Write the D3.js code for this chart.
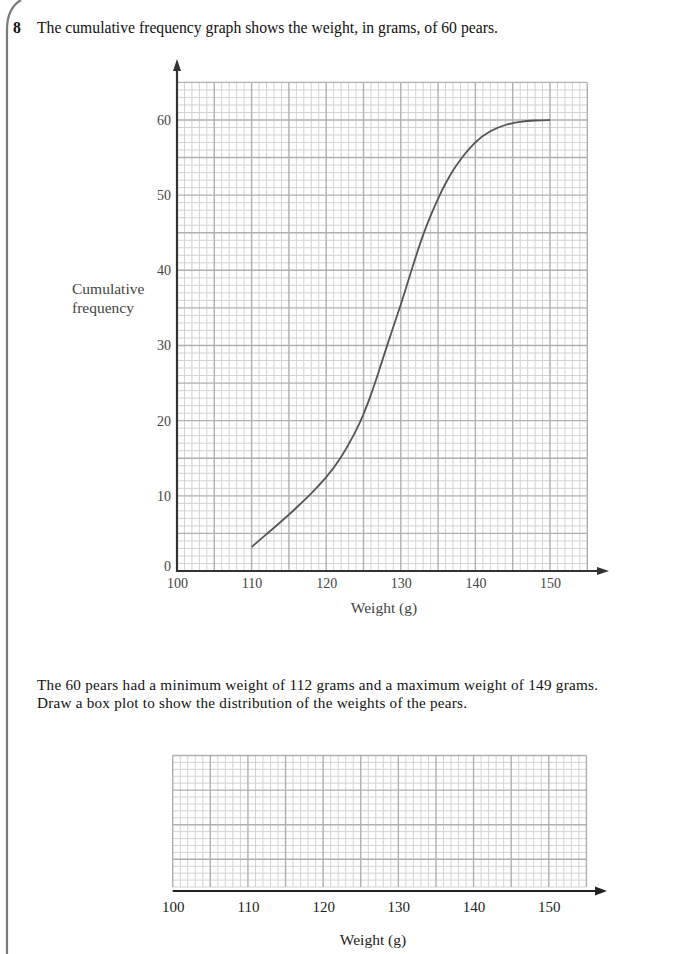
<!DOCTYPE html>
<html>
<head>
<meta charset="utf-8">
<script src="https://cdn.jsdelivr.net/npm/d3@7"></script>
<style>
  body { margin: 0; background: #fff; }
  svg { display: block; font-family: "Liberation Serif", "Times New Roman", serif; }
  .minor { stroke: #d2d2d2; stroke-width: 1; }
  .major { stroke: #b0b0b0; stroke-width: 1.4; }
</style>
</head>
<body>
<svg id="chart" width="680" height="954"></svg>
<script>
// cumulative frequency curve
const weights = [110, 112, 114, 116, 118, 120, 122, 124, 125, 126, 127, 128, 129, 130, 131, 132, 133, 134, 135, 136, 137, 138, 140, 142, 144, 146, 148, 150];
const cumFreq = [3.2, 4.9, 6.6, 8.4, 10.3, 12.4, 15.0, 18.6, 20.8, 23.4, 26.4, 29.5, 32.5, 35.4, 38.6, 41.8, 44.8, 47.3, 49.6, 51.6, 53.3, 54.8, 57.2, 58.6, 59.4, 59.8, 59.95, 60];

const xTicks = [100, 110, 120, 130, 140, 150];
const yTicks = [0, 10, 20, 30, 40, 50, 60];

const svg = d3.select("#chart");

// page frame on the left
svg.append("path")
  .attr("d", "M7,954 L7,30 Q7,8 21,0")
  .attr("fill", "none")
  .attr("stroke", "#7a7a7a")
  .attr("stroke-width", 2.2);

// question header
svg.append("text")
  .attr("x", 13).attr("y", 33)
  .attr("font-size", 15.7).attr("font-weight", "bold").attr("fill", "#111")
  .text("8");
svg.append("text")
  .attr("x", 37).attr("y", 33)
  .attr("font-size", 15.7).attr("fill", "#111")
  .text("The cumulative frequency graph shows the weight, in grams, of 60 pears.");

// ---- cumulative frequency graph ----
const x = d3.scaleLinear().domain([100, 155]).range([177, 587.3]);
const y = d3.scaleLinear().domain([0, 65]).range([571, 82.4]);

function drawGrid(g, xs, ys, yMax, majorTest) {
  const xv = d3.range(xs.domain()[0], xs.domain()[1] + 1);
  const yv = d3.range(0, yMax + 1);
  ["minor", "major"].forEach(cls => {
    const isMajor = cls === "major";
    g.selectAll("line.v." + cls)
      .data(xv.filter(v => (v % 5 === 0) === isMajor))
      .join("line")
      .attr("class", "v " + cls)
      .attr("x1", d => xs(d)).attr("x2", d => xs(d))
      .attr("y1", ys(0)).attr("y2", ys(yMax));
    g.selectAll("line.h." + cls)
      .data(yv.filter(v => majorTest(v) === isMajor))
      .join("line")
      .attr("class", "h " + cls)
      .attr("x1", xs.range()[0]).attr("x2", xs.range()[1])
      .attr("y1", d => ys(d)).attr("y2", d => ys(d));
  });
}

const grid1 = svg.append("g");
drawGrid(grid1, x, y, 65, v => v % 5 === 0);

// curve
const line = d3.line()
  .x((d, i) => x(weights[i]))
  .y(d => y(d))
  .curve(d3.curveBasis);

svg.append("path")
  .datum(cumFreq)
  .attr("d", line)
  .attr("fill", "none")
  .attr("stroke", "#555")
  .attr("stroke-width", 1.8);

// axes lines with arrows
svg.append("line")
  .attr("x1", x(100)).attr("x2", x(100))
  .attr("y1", y(0) + 1).attr("y2", 70)
  .attr("stroke", "#333").attr("stroke-width", 2.2);
svg.append("path")
  .attr("d", `M${x(100)},59 L${x(100) - 4},71 L${x(100) + 4},71 Z`)
  .attr("fill", "#333");
svg.append("line")
  .attr("x1", x(100) - 1).attr("x2", 599)
  .attr("y1", y(0)).attr("y2", y(0))
  .attr("stroke", "#333").attr("stroke-width", 2.2);
svg.append("path")
  .attr("d", `M609,${y(0)} L597,${y(0) - 4} L597,${y(0) + 4} Z`)
  .attr("fill", "#333");

// tick labels
const yAxis = svg.append("g")
  .attr("transform", `translate(${x(100)},0)`)
  .call(d3.axisLeft(y).tickValues(yTicks).tickSize(0).tickPadding(6));
yAxis.select(".domain").remove();
yAxis.selectAll("text")
  .attr("font-family", "Liberation Serif, serif")
  .attr("font-size", 14).attr("fill", "#444")
  .attr("dy", d => d === 0 ? "-0.05em" : "0.32em");

const xAxis = svg.append("g")
  .attr("transform", `translate(0,${y(0)})`)
  .call(d3.axisBottom(x).tickValues(xTicks).tickSize(0).tickPadding(7));
xAxis.select(".domain").remove();
xAxis.selectAll("text")
  .attr("font-family", "Liberation Serif, serif")
  .attr("font-size", 14).attr("fill", "#444");

svg.append("text")
  .attr("x", 384).attr("y", 613)
  .attr("text-anchor", "middle").attr("font-size", 15.5).attr("fill", "#444")
  .text("Weight (g)");

const yLab = svg.append("text")
  .attr("x", 72).attr("y", 294)
  .attr("font-size", 15.5).attr("fill", "#444");
yLab.append("tspan").attr("x", 72).text("Cumulative");
yLab.append("tspan").attr("x", 72).attr("dy", 19).text("frequency");

// ---- question text ----
svg.append("text")
  .attr("x", 37).attr("y", 690)
  .attr("font-size", 15.2).attr("fill", "#111")
  .attr("textLength", 561).attr("lengthAdjust", "spacing")
  .text("The 60 pears had a minimum weight of 112 grams and a maximum weight of 149 grams.");
svg.append("text")
  .attr("x", 37).attr("y", 708)
  .attr("font-size", 15.2).attr("fill", "#111")
  .attr("textLength", 430).attr("lengthAdjust", "spacing")
  .text("Draw a box plot to show the distribution of the weights of the pears.");

// ---- empty grid for box plot ----
const x2 = d3.scaleLinear().domain([100, 155]).range([172.7, 586.4]);
const y2 = d3.scaleLinear().domain([0, 19]).range([887, 755.5]);

const grid2 = svg.append("g");
drawGrid(grid2, x2, y2, 19, v => (19 - v) % 5 === 0);

svg.append("line")
  .attr("x1", x2(100)).attr("x2", 597)
  .attr("y1", 891).attr("y2", 891)
  .attr("stroke", "#222").attr("stroke-width", 2);
svg.append("path")
  .attr("d", "M607,891 L595,886.5 L595,895.5 Z")
  .attr("fill", "#222");

const xAxis2 = svg.append("g")
  .attr("transform", "translate(0,891)")
  .call(d3.axisBottom(x2).tickValues(xTicks).tickSize(0).tickPadding(10));
xAxis2.select(".domain").remove();
xAxis2.selectAll("text")
  .attr("font-family", "Liberation Serif, serif")
  .attr("font-size", 15).attr("fill", "#222");

svg.append("text")
  .attr("x", 373).attr("y", 945)
  .attr("text-anchor", "middle").attr("font-size", 15.5).attr("fill", "#222")
  .text("Weight (g)");
</script>
</body>
</html>
